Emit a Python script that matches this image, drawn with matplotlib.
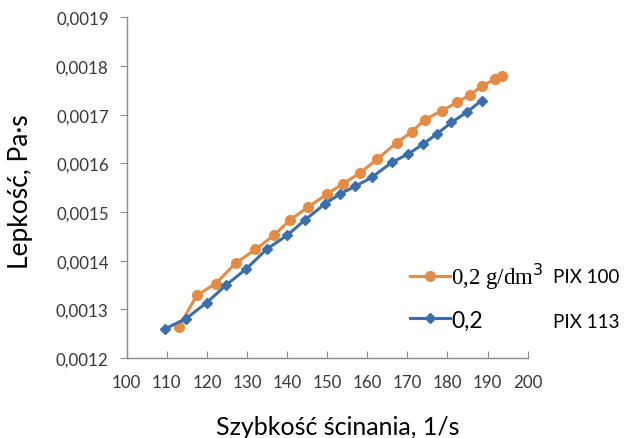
import matplotlib
matplotlib.use("Agg")
import matplotlib.pyplot as plt

# shear rate [1/s] and viscosity [Pa*s]
pix100_rate = [113.0, 117.5, 122.2, 127.2, 132.1, 136.7, 140.8, 145.2, 150.0, 153.9, 158.2,
               162.5, 167.3, 171.1, 174.4, 178.6, 182.3, 185.5, 188.7, 191.8, 193.7]
pix100_visc = [0.001264, 0.001329, 0.001353, 0.001395, 0.001423, 0.001452, 0.001484,
               0.001510, 0.001537, 0.001558, 0.001580, 0.001609, 0.001642, 0.001665,
               0.001690, 0.001708, 0.001725, 0.001740, 0.001759, 0.001773, 0.001780]

pix113_rate = [109.6, 114.8, 120.0, 124.8, 129.8, 135.0, 140.0, 144.5, 149.5, 153.2,
               157.0, 161.1, 166.1, 170.2, 174.0, 177.3, 181.0, 184.8, 188.5]
pix113_visc = [0.001260, 0.001281, 0.001314, 0.001350, 0.001383, 0.001424, 0.001452,
               0.001484, 0.001517, 0.001537, 0.001553, 0.001571, 0.001602, 0.001619,
               0.001640, 0.001660, 0.001684, 0.001705, 0.001729]

x_ticks = [100, 110, 120, 130, 140, 150, 160, 170, 180, 190, 200]
y_ticks = [0.0012, 0.0013, 0.0014, 0.0015, 0.0016, 0.0017, 0.0018, 0.0019]
y_ticklabels = ['0,0012', '0,0013', '0,0014', '0,0015', '0,0016', '0,0017', '0,0018', '0,0019']

orange = '#E68B43'
blue = '#3A6FAE'
grey = '#8C8C8C'
sans = ['Lato', 'DejaVu Sans']
serif = ['Liberation Serif', 'DejaVu Serif']

fig = plt.figure(figsize=(6.25, 4.39), dpi=100)
ax = fig.add_axes([0.2027, 0.1822, 0.6416, 0.7761])

ax.plot(pix100_rate, pix100_visc, color=orange, lw=2.2, marker='o', ms=7,
        label='0,2 g/dm$^3$', zorder=3)
ax.plot(pix113_rate, pix113_visc, color=blue, lw=2.2, marker='D', ms=5.2,
        label='0,2', zorder=4)

ax.set_xlim(100, 200)
ax.set_ylim(0.0012, 0.0019)
ax.set_xticks(x_ticks)
ax.set_xticklabels([str(t) for t in x_ticks], family=sans, fontsize=12.2, color='#383838')
ax.set_yticks(y_ticks)
ax.set_yticklabels(y_ticklabels, family=sans, fontsize=12.2, color='#383838')

for s in ['top', 'right']:
    ax.spines[s].set_visible(False)
for s in ['left', 'bottom']:
    ax.spines[s].set_color(grey)
    ax.spines[s].set_linewidth(1.0)
ax.tick_params(axis='x', direction='in', length=5, color=grey, pad=11.5)
ax.tick_params(axis='y', direction='out', length=5, color=grey, pad=8)

ax.set_xlabel('Szybkość ścinania, 1/s', family=sans, fontsize=18, va='center')
ax.xaxis.set_label_coords(0.527, -0.2)
ax.set_ylabel('Lepkość, Pa·s', family=sans, fontsize=19, va='center')
ax.yaxis.set_label_coords(-0.266, 0.49)

leg = ax.legend(loc='center left', bbox_to_anchor=(0.707, 0.183), frameon=False,
                borderaxespad=0, borderpad=0, handlelength=1.75, handletextpad=0.05,
                labelspacing=0.8, fontsize=16.5)
leg.get_texts()[0].set_family(serif)
leg.get_texts()[1].set_family(sans)

ax.text(1.063, 0.24, 'PIX 100', transform=ax.transAxes, family=sans, fontsize=13.5,
        va='center', clip_on=False)
ax.text(1.063, 0.108, 'PIX 113', transform=ax.transAxes, family=sans, fontsize=13.5,
        va='center', clip_on=False)

fig.savefig('out.png', dpi=100)
